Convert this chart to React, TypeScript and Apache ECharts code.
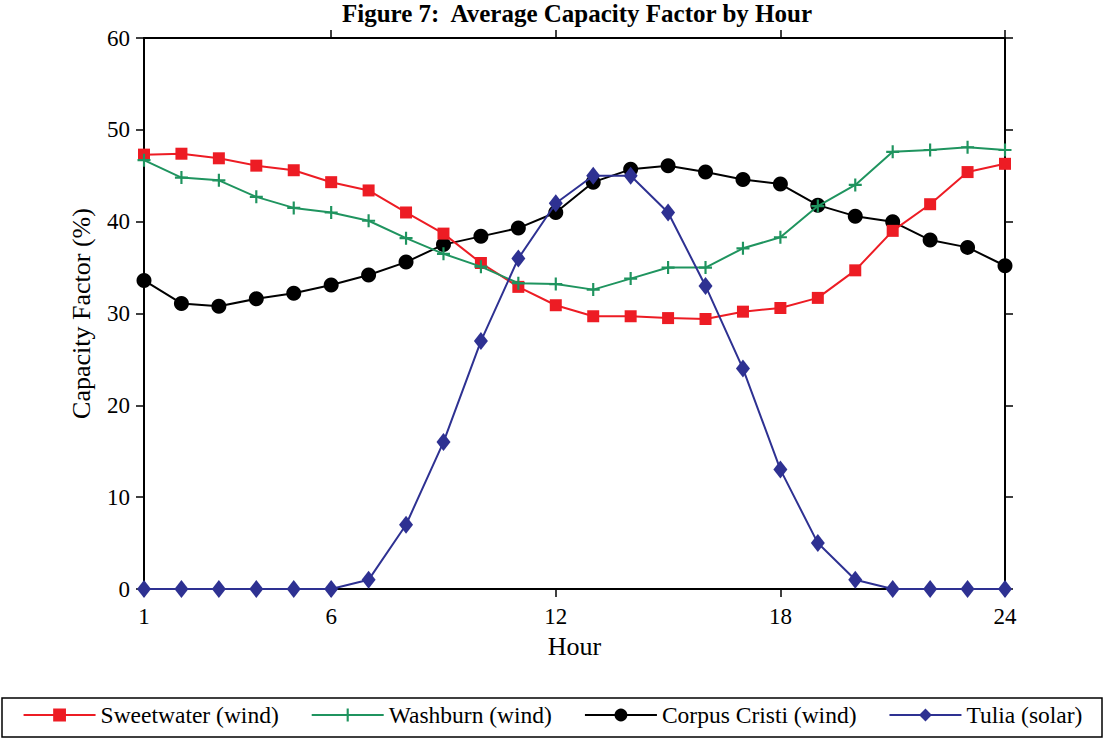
import React, { useEffect, useRef } from "react";
import * as echarts from "echarts";

const hours = [1, 2, 3, 4, 5, 6, 7, 8, 9, 10, 11, 12, 13, 14, 15, 16, 17, 18, 19, 20, 21, 22, 23, 24];
const sweetwater = [47.3, 47.4, 46.9, 46.1, 45.6, 44.3, 43.4, 41.0, 38.7, 35.5, 32.9, 30.9, 29.7, 29.7, 29.5, 29.4, 30.2, 30.6, 31.7, 34.7, 39.0, 41.9, 45.4, 46.3];
const washburn = [46.7, 44.8, 44.5, 42.7, 41.5, 41.0, 40.1, 38.2, 36.5, 35.1, 33.3, 33.2, 32.6, 33.8, 35.0, 35.0, 37.1, 38.3, 41.7, 44.0, 47.6, 47.8, 48.1, 47.8];
const corpusCristi = [33.6, 31.1, 30.8, 31.6, 32.2, 33.1, 34.2, 35.6, 37.5, 38.4, 39.3, 41.0, 44.3, 45.7, 46.1, 45.4, 44.6, 44.1, 41.8, 40.6, 40.0, 38.0, 37.2, 35.2];
const tulia = [0, 0, 0, 0, 0, 0, 1, 7, 16, 27, 36, 42, 45, 45, 41, 33, 24, 13, 5, 1, 0, 0, 0, 0];

const xTicks = [1, 6, 12, 18, 24];
const xTopTicks = [6, 12, 18, 24];
const seriesNames = ["Sweetwater (wind)", "Washburn (wind)", "Corpus Cristi (wind)", "Tulia (solar)"];
const titleText = "Figure 7:  Average Capacity Factor by Hour";

const FONT = "'Liberation Serif', 'Times New Roman', serif";

export default function App() {
  const ref = useRef<HTMLDivElement>(null);
  useEffect(() => {
    document.body.style.margin = "0";
    const chart = echarts.init(ref.current!, null, { renderer: "svg" });
    const pairs = (vals: number[]) => hours.map((h, i) => [h, vals[i]]);
    const axisCommon = {
      type: "value" as const,
      min: 1,
      max: 24,
      splitLine: { show: false },
      axisLine: { show: true, onZero: false, lineStyle: { color: "#000", width: 2 } },
    };
    const yCommon = {
      type: "value" as const,
      min: 0,
      max: 60,
      interval: 10,
      splitLine: { show: false },
      axisLine: { show: true, onZero: false, lineStyle: { color: "#000", width: 2 } },
      axisTick: { show: true, inside: false, length: 8, lineStyle: { color: "#000", width: 1.5 } },
    };
    chart.setOption({
      animation: false,
      textStyle: { fontFamily: FONT },
      grid: { left: 144, right: 100, top: 38, bottom: 150 },
      xAxis: [
        {
          ...axisCommon,
          position: "bottom",
          name: "Hour",
          nameLocation: "middle",
          nameGap: 44,
          nameTextStyle: { fontFamily: FONT, fontSize: 26, color: "#000" },
          axisTick: { show: true, inside: false, length: 8, customValues: xTicks, lineStyle: { color: "#000", width: 1.5 } },
          axisLabel: { show: true, customValues: xTicks, margin: 16, fontFamily: FONT, fontSize: 23, color: "#000" },
        },
        {
          ...axisCommon,
          position: "top",
          axisTick: { show: true, inside: false, length: 8, customValues: xTopTicks, lineStyle: { color: "#000", width: 1.5 } },
          axisLabel: { show: false },
        },
      ],
      yAxis: [
        {
          ...yCommon,
          position: "left",
          name: "Capacity Factor (%)",
          nameLocation: "middle",
          nameGap: 50,
          nameTextStyle: { fontFamily: FONT, fontSize: 26, color: "#000" },
          axisLabel: { show: true, margin: 14, fontFamily: FONT, fontSize: 23, color: "#000" },
        },
        {
          ...yCommon,
          position: "right",
          axisLabel: { show: false },
        },
      ],
      legend: {
        bottom: 7,
        left: "center",
        itemWidth: 72,
        itemHeight: 16,
        itemGap: 32,
        textStyle: { fontFamily: FONT, fontSize: 23.5, color: "#000" },
        data: seriesNames,
      },
      graphic: [
        {
          type: "text",
          x: 577,
          y: 1,
          silent: true,
          style: {
            text: titleText,
            align: "center",
            verticalAlign: "top",
            fontFamily: FONT,
            fontSize: 25,
            fontWeight: "bold",
            fill: "#000",
          },
        },
        {
          type: "rect",
          shape: { x: 2, y: 698, width: 1100, height: 39 },
          style: { fill: "none", stroke: "#000", lineWidth: 1.5 },
          silent: true,
        },
      ],
      series: [
        {
          name: seriesNames[0],
          type: "line",
          data: pairs(sweetwater),
          symbol: "rect",
          symbolSize: 12,
          lineStyle: { color: "#ED1C24", width: 2 },
          itemStyle: { color: "#ED1C24" },
          z: 3,
        },
        {
          name: seriesNames[1],
          type: "line",
          data: pairs(washburn),
          symbol: "path://M5,0H7V5H12V7H7V12H5V7H0V5H5Z",
          symbolSize: 13,
          lineStyle: { color: "#1F945F", width: 2 },
          itemStyle: { color: "#1F945F" },
          z: 4,
        },
        {
          name: seriesNames[2],
          type: "line",
          data: pairs(corpusCristi),
          symbol: "circle",
          symbolSize: 15,
          lineStyle: { color: "#000", width: 2 },
          itemStyle: { color: "#000" },
          z: 2,
        },
        {
          name: seriesNames[3],
          type: "line",
          data: pairs(tulia),
          symbol: "diamond",
          symbolSize: [14, 18],
          lineStyle: { color: "#2E3192", width: 2 },
          itemStyle: { color: "#2E3192" },
          z: 5,
        },
      ],
    });
    return () => chart.dispose();
  }, []);
  return <div ref={ref} style={{ width: 1105, height: 739 }} />;
}
